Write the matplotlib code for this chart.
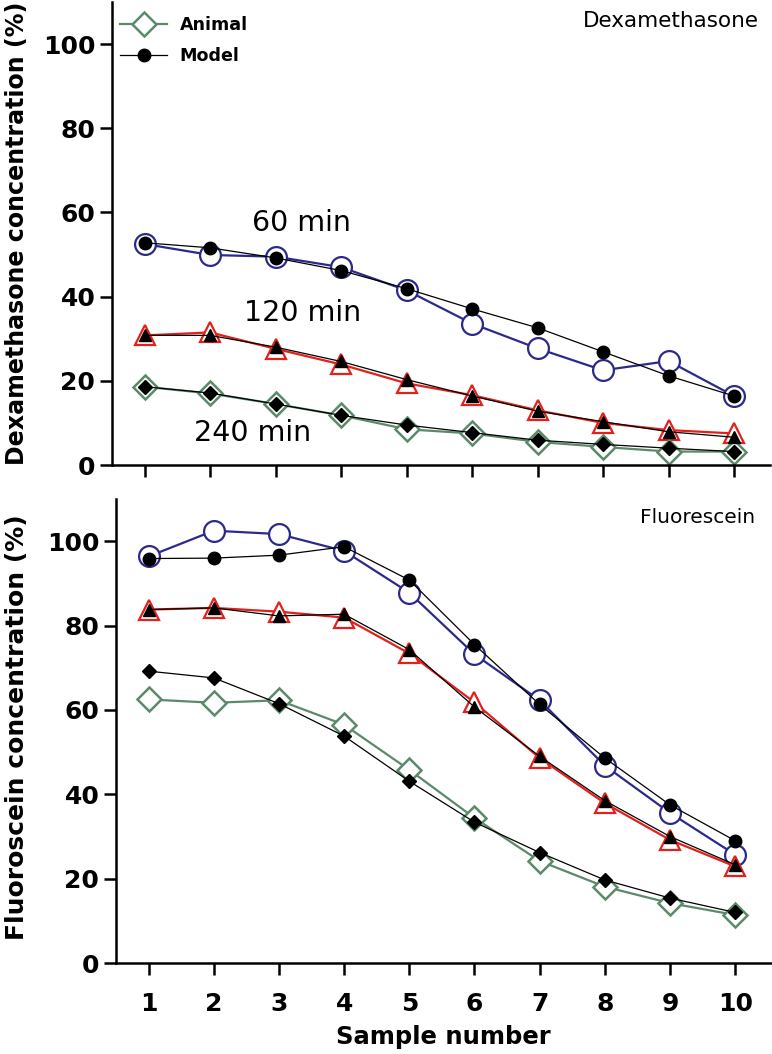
import matplotlib
matplotlib.use("Agg")
import matplotlib.pyplot as plt
from matplotlib.lines import Line2D

samples = [1, 2, 3, 4, 5, 6, 7, 8, 9, 10]

# Dexamethasone (%)
dex_60_animal = [52.5, 49.9, 49.5, 47.0, 41.5, 33.6, 27.7, 22.5, 24.7, 16.4]
dex_60_model = [52.8, 51.6, 49.2, 46.2, 41.9, 37.1, 32.6, 26.9, 21.2, 16.4]
dex_120_animal = [30.8, 31.5, 27.6, 23.9, 19.4, 16.6, 13.0, 10.0, 8.3, 7.5]
dex_120_model = [30.8, 30.8, 28.0, 24.6, 20.3, 16.4, 12.8, 10.3, 7.9, 6.6]
dex_240_animal = [18.6, 17.0, 14.5, 11.8, 8.5, 7.5, 5.5, 4.3, 3.2, 3.2]
dex_240_model = [18.6, 17.1, 14.5, 11.8, 9.5, 7.7, 5.9, 4.9, 4.0, 3.2]

# Fluorescein (%)
flu_60_animal = [96.4, 102.5, 101.7, 97.7, 87.8, 73.2, 62.3, 46.8, 35.6, 25.7]
flu_60_model = [95.9, 96.0, 96.7, 98.7, 90.8, 75.5, 61.3, 48.6, 37.5, 29.0]
flu_120_animal = [83.8, 84.2, 83.3, 81.9, 73.4, 61.8, 48.6, 37.9, 29.2, 22.9]
flu_120_model = [83.8, 84.2, 82.3, 82.7, 74.3, 60.7, 49.0, 38.5, 30.0, 23.3]
flu_240_animal = [62.5, 61.7, 62.3, 56.5, 45.8, 34.4, 24.2, 18.1, 14.2, 11.4]
flu_240_model = [69.2, 67.6, 61.5, 53.8, 43.1, 33.4, 26.2, 19.7, 15.4, 12.0]

yticks = [0, 20, 40, 60, 80, 100]

BLUE = "#2b2a8c"
RED = "#e3211c"
GREEN = "#5b8a6b"

def draw_panel(ax, a60, m60, a120, m120, a240, m240):
    # animal: open coloured markers
    ax.plot(samples, a60, color=BLUE, lw=1.6, marker="o", ms=15,
            mfc="white", mec=BLUE, mew=1.6, zorder=2)
    ax.plot(samples, a120, color=RED, lw=1.6, marker="^", ms=14.5,
            mfc="white", mec=RED, mew=1.6, zorder=2)
    ax.plot(samples, a240, color=GREEN, lw=1.6, marker="D", ms=12,
            mfc="white", mec=GREEN, mew=1.8, zorder=2)
    # model: thin black with filled markers
    ax.plot(samples, m60, color="black", lw=0.9, marker="o", ms=9, zorder=3)
    ax.plot(samples, m120, color="black", lw=0.9, marker="^", ms=9, zorder=3)
    ax.plot(samples, m240, color="black", lw=0.9, marker="D", ms=7.5, zorder=3)

    ax.set_xlim(0.5, 10.55)
    ax.set_ylim(0, 110)
    ax.set_xticks(samples)
    ax.set_yticks(yticks)
    for s in ["top", "right"]:
        ax.spines[s].set_visible(False)
    for s in ["left", "bottom"]:
        ax.spines[s].set_linewidth(1.8)
    ax.tick_params(direction="out", length=8.5, width=1.8, labelsize=18)
    ax.tick_params(axis="y", pad=3.5)
    ax.tick_params(axis="x", pad=12)
    for lab in ax.get_xticklabels() + ax.get_yticklabels():
        lab.set_fontweight("bold")


fig = plt.figure(figsize=(7.72, 10.54), dpi=100)
ax1 = fig.add_axes([0.1451, 0.5588, 0.8523, 0.4393])
ax2 = fig.add_axes([0.1503, 0.0863, 0.8484, 0.4402])

draw_panel(ax1, dex_60_animal, dex_60_model, dex_120_animal, dex_120_model,
           dex_240_animal, dex_240_model)
draw_panel(ax2, flu_60_animal, flu_60_model, flu_120_animal, flu_120_model,
           flu_240_animal, flu_240_model)

ax1.tick_params(axis="x", labelbottom=False)

ax1.set_ylabel("Dexamethasone concentration (%)", fontsize=17.1, fontweight="bold")
ax1.yaxis.set_label_coords(-0.126, 0.5)
ax2.set_ylabel("Fluoroscein concentration (%)", fontsize=18, fontweight="bold")
ax2.yaxis.set_label_coords(-0.133, 0.509)
ax2.set_xlabel("Sample number", fontsize=17.5, fontweight="bold", labelpad=7)

ax1.text(0.983, 0.959, "Dexamethasone", transform=ax1.transAxes,
         ha="right", va="center", fontsize=15.5)
ax2.text(0.976, 0.961, "Fluorescein", transform=ax2.transAxes,
         ha="right", va="center", fontsize=14.5)

ax1.text(3.39, 57.6, "60 min", ha="center", va="center", fontsize=20.5)
ax1.text(3.41, 36.0, "120 min", ha="center", va="center", fontsize=20.5)
ax1.text(2.65, 7.6, "240 min", ha="center", va="center", fontsize=20.5)

handles = [
    Line2D([], [], color=GREEN, lw=1.6, marker="D", ms=12, mfc="white",
           mec=GREEN, mew=1.8),
    Line2D([], [], color="black", lw=0.9, marker="o", ms=9),
]
ax1.legend(handles, ["Animal", "Model"], loc="upper left",
           bbox_to_anchor=(0.012, 0.970), frameon=False,
           prop={"weight": "bold", "size": 12.6}, handlelength=2.7,
           handletextpad=0.7, borderaxespad=0, borderpad=0,
           labelspacing=0.74, numpoints=1)

fig.savefig("out.png", dpi=100)
